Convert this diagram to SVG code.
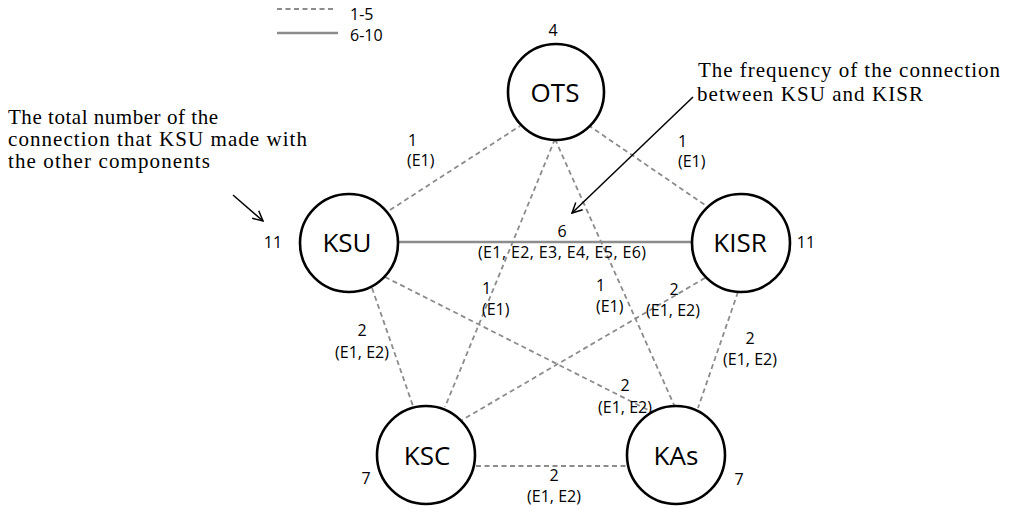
<svg xmlns="http://www.w3.org/2000/svg" width="1009" height="511" viewBox="0 0 1009 511">
<style>
.dash{stroke:#8c8c8c;stroke-width:1.8;stroke-dasharray:5 3.5;fill:none}
.solid{stroke:#8c8c8c;stroke-width:2.6;fill:none}
.node circle{fill:#fff;stroke:#000;stroke-width:2.6}
.nl{font-family:"Open Sans","Noto Sans",sans-serif;font-size:26px;text-anchor:middle;fill:#000}
.lb{font-family:"Open Sans","Noto Sans",sans-serif;font-size:16px;fill:#000}
.c{text-anchor:middle}
.ann{font-family:"Liberation Serif","Times New Roman",serif;font-size:21px;fill:#000}
.arr{stroke:#000;stroke-width:1.5;fill:none}
</style>
<defs>
<marker id="ah" viewBox="0 0 12 12" refX="11" refY="6" markerWidth="12" markerHeight="12" markerUnits="userSpaceOnUse" orient="auto">
<path d="M1,1 L11,6 L1,11" fill="none" stroke="#000" stroke-width="1.5"/>
</marker>
</defs>
<rect width="1009" height="511" fill="#fff"/>
<g id="legend">
<line class="dash" x1="277" y1="9" x2="336" y2="9"/>
<line class="solid" x1="277" y1="33" x2="338" y2="33"/>
<text class="lb" x="350" y="20" font-size="17">1-5</text>
<text class="lb" x="350" y="41" font-size="17">6-10</text>
</g>
<g id="connectors">
<line class="dash" x1="390" y1="210" x2="520" y2="126"/>
<line class="dash" x1="588" y1="125" x2="705" y2="205"/>
<line class="solid" x1="398" y1="242" x2="692" y2="242"/>
<line class="dash" x1="555" y1="139" x2="445" y2="407"/>
<line class="dash" x1="555" y1="139" x2="675" y2="407"/>
<line class="dash" x1="372" y1="288" x2="413" y2="406"/>
<line class="dash" x1="385" y1="277" x2="652" y2="412"/>
<line class="dash" x1="705" y1="278" x2="462" y2="420"/>
<line class="dash" x1="738" y1="292" x2="698" y2="408"/>
<line class="dash" x1="476" y1="466" x2="627" y2="466"/>
</g>
<g id="edge-labels">
<text class="lb" x="408" y="146">1</text>
<text class="lb" x="407" y="166">(E1)</text>
<text class="lb" x="678" y="147">1</text>
<text class="lb" x="678" y="167">(E1)</text>
<text class="lb c" x="562" y="237">6</text>
<text class="lb c" x="562" y="258" textLength="168">(E1, E2, E3, E4, E5, E6)</text>
<text class="lb" x="482" y="294">1</text>
<text class="lb" x="482" y="315">(E1)</text>
<text class="lb" x="596" y="291">1</text>
<text class="lb" x="596" y="312">(E1)</text>
<text class="lb c" x="674" y="295">2</text>
<text class="lb c" x="673" y="316">(E1, E2)</text>
<text class="lb c" x="750" y="344">2</text>
<text class="lb c" x="750" y="365">(E1, E2)</text>
<text class="lb c" x="625" y="391">2</text>
<text class="lb c" x="625" y="413">(E1, E2)</text>
<text class="lb c" x="362" y="336">2</text>
<text class="lb c" x="362" y="358">(E1, E2)</text>
<text class="lb c" x="554" y="481">2</text>
<text class="lb c" x="554" y="502">(E1, E2)</text>
</g>
<g id="node-ots" class="node">
<circle cx="556" cy="92" r="48"/>
<text class="nl" x="555" y="102">OTS</text>
<text class="lb c" x="553" y="36">4</text>
</g>
<g id="node-ksu" class="node">
<circle cx="349" cy="243" r="49"/>
<text class="nl" x="347" y="252">KSU</text>
<text class="lb c" x="273" y="248">11</text>
</g>
<g id="node-kisr" class="node">
<circle cx="741" cy="243" r="49"/>
<text class="nl" x="740" y="252">KISR</text>
<text class="lb c" x="806" y="248">11</text>
</g>
<g id="node-ksc" class="node">
<circle cx="426" cy="455" r="49"/>
<text class="nl" x="427" y="465">KSC</text>
<text class="lb c" x="366" y="484">7</text>
</g>
<g id="node-kas" class="node">
<circle cx="676" cy="455" r="49"/>
<text class="nl" x="676" y="465">KAs</text>
<text class="lb c" x="739" y="485">7</text>
</g>
<g id="annotation-left">
<text class="ann" x="8" y="124" textLength="210">The total number of the</text>
<text class="ann" x="8" y="146" textLength="299">connection that KSU made with</text>
<text class="ann" x="8" y="168" textLength="202">the other components</text>
<line class="arr" x1="233" y1="195" x2="263" y2="221" marker-end="url(#ah)"/>
</g>
<g id="annotation-right">
<text class="ann" x="698" y="77" textLength="302">The frequency of the connection</text>
<text class="ann" x="697" y="101" textLength="226">between KSU and KISR</text>
<line class="arr" x1="693" y1="97" x2="572" y2="213" marker-end="url(#ah)"/>
</g>
</svg>
